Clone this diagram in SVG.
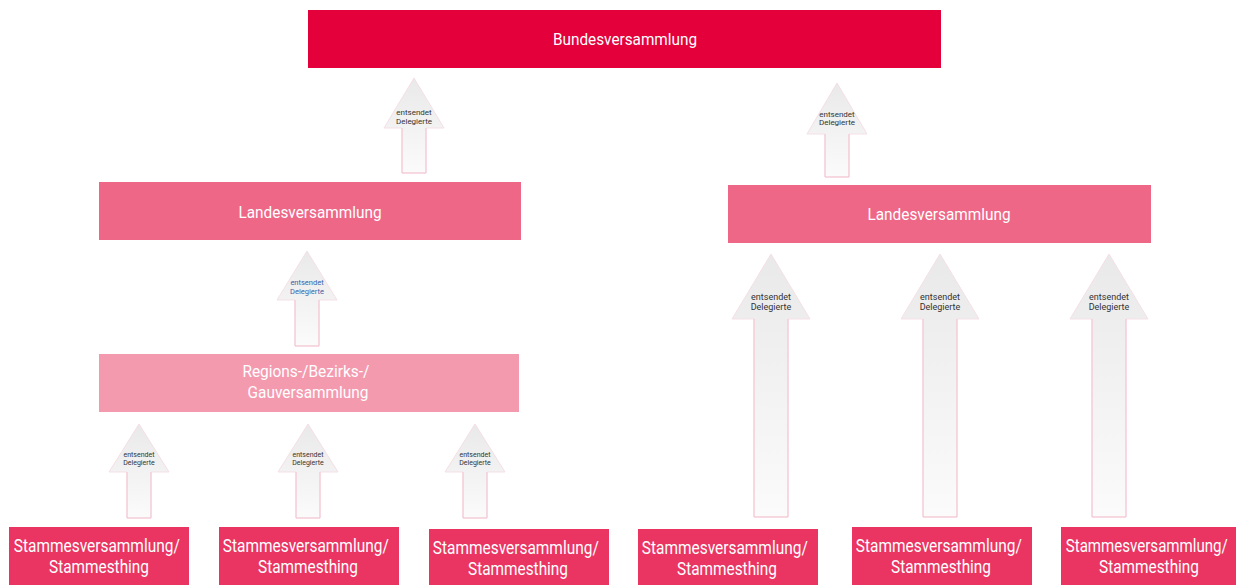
<svg xmlns="http://www.w3.org/2000/svg" width="1236" height="585" viewBox="0 0 1236 585">
  <defs>
    <linearGradient id="arrowFill" x1="0" y1="0" x2="0" y2="1">
      <stop offset="0" stop-color="#e9e9e9"/>
      <stop offset="1" stop-color="#fbfbfb"/>
    </linearGradient>
    <style>
      .box-text { font-family: Roboto, "Liberation Sans", sans-serif; fill: #ffffff; text-anchor: middle; }
      .bund { fill: #e4003a; }
      .land { fill: #ee6787; }
      .region { fill: #f49aaf; }
      .stamm { fill: #ea3563; }
      .arrow { fill: url(#arrowFill); stroke: #f5dfe5; stroke-width: 1; }
      .shaft { fill: none; stroke: #f5c2d0; stroke-width: 1; }
      .arrow-text { font-family: Roboto, "Liberation Sans", sans-serif; fill: #333333; text-anchor: middle; }
      .arrow-text.blue { fill: #3a62a8; }
    </style>
  </defs>

  <!-- connectors: "entsendet Delegierte" arrows (body + shaft outline + label) -->
  <g id="connectors">
    <path class="arrow" d="M414,78 L444,128 L426,128 L426,173 L402,173 L402,128 L384,128 Z"/>
    <path class="shaft" d="M426,128 V173 H402 V128"/>
    <text class="arrow-text" font-size="8"><tspan x="414" y="115">entsendet</tspan><tspan x="414" y="124">Delegierte</tspan></text>

    <path class="arrow" d="M837,83 L867,134 L849,134 L849,177 L825,177 L825,134 L807,134 Z"/>
    <path class="shaft" d="M849,134 V177 H825 V134"/>
    <text class="arrow-text" font-size="8"><tspan x="837" y="117">entsendet</tspan><tspan x="837" y="125">Delegierte</tspan></text>

    <path class="arrow" d="M307,251 L337,300 L319,300 L319,346 L295,346 L295,300 L277,300 Z"/>
    <path class="shaft" d="M319,300 V346 H295 V300"/>
    <text class="arrow-text blue" font-size="7.5"><tspan x="307" y="285">entsendet</tspan><tspan x="307" y="294">Delegierte</tspan></text>

    <path class="arrow" d="M139,424 L169,472 L151,472 L151,518 L127,518 L127,472 L109,472 Z"/>
    <path class="shaft" d="M151,472 V518 H127 V472"/>
    <text class="arrow-text" font-size="7"><tspan x="139" y="457">entsendet</tspan><tspan x="139" y="465">Delegierte</tspan></text>

    <path class="arrow" d="M308,424 L338,472 L320,472 L320,518 L296,518 L296,472 L278,472 Z"/>
    <path class="shaft" d="M320,472 V518 H296 V472"/>
    <text class="arrow-text" font-size="7"><tspan x="308" y="457">entsendet</tspan><tspan x="308" y="465">Delegierte</tspan></text>

    <path class="arrow" d="M475,424 L505,472 L487,472 L487,518 L463,518 L463,472 L445,472 Z"/>
    <path class="shaft" d="M487,472 V518 H463 V472"/>
    <text class="arrow-text" font-size="7"><tspan x="475" y="457">entsendet</tspan><tspan x="475" y="465">Delegierte</tspan></text>

    <path class="arrow" d="M771,254 L810,319 L788,319 L788,517 L754,517 L754,319 L732,319 Z"/>
    <path class="shaft" d="M788,319 V517 H754 V319"/>
    <text class="arrow-text" font-size="9"><tspan x="771" y="300">entsendet</tspan><tspan x="771" y="310">Delegierte</tspan></text>

    <path class="arrow" d="M940,254 L979,319 L957,319 L957,517 L923,517 L923,319 L901,319 Z"/>
    <path class="shaft" d="M957,319 V517 H923 V319"/>
    <text class="arrow-text" font-size="9"><tspan x="940" y="300">entsendet</tspan><tspan x="940" y="310">Delegierte</tspan></text>

    <path class="arrow" d="M1109,254 L1148,319 L1126,319 L1126,517 L1092,517 L1092,319 L1070,319 Z"/>
    <path class="shaft" d="M1126,319 V517 H1092 V319"/>
    <text class="arrow-text" font-size="9"><tspan x="1109" y="300">entsendet</tspan><tspan x="1109" y="310">Delegierte</tspan></text>
  </g>

  <!-- assemblies -->
  <g id="bundesversammlung">
    <rect class="bund" x="308" y="10" width="633" height="58"/>
    <text class="box-text" x="625" y="45" font-size="16" textLength="144" lengthAdjust="spacingAndGlyphs">Bundesversammlung</text>
  </g>

  <g id="landesversammlung-left">
    <rect class="land" x="99" y="182" width="422" height="58"/>
    <text class="box-text" x="310" y="218" font-size="16" textLength="143" lengthAdjust="spacingAndGlyphs">Landesversammlung</text>
  </g>

  <g id="landesversammlung-right">
    <rect class="land" x="728" y="185" width="423" height="58"/>
    <text class="box-text" x="939" y="220" font-size="16" textLength="143" lengthAdjust="spacingAndGlyphs">Landesversammlung</text>
  </g>

  <g id="regionsversammlung">
    <rect class="region" x="99" y="354" width="420" height="58"/>
    <text class="box-text" font-size="17">
      <tspan x="308" y="377" textLength="127" lengthAdjust="spacingAndGlyphs">Regions-/Bezirks-/</tspan>
      <tspan x="308" y="398" textLength="121" lengthAdjust="spacingAndGlyphs">Gauversammlung</tspan>
    </text>
  </g>

  <g id="stamm-1">
    <rect class="stamm" x="9" y="527" width="180" height="58"/>
    <text class="box-text" font-size="18">
      <tspan x="99" y="552" textLength="166" lengthAdjust="spacingAndGlyphs">Stammesversammlung/</tspan>
      <tspan x="99" y="573" textLength="100" lengthAdjust="spacingAndGlyphs">Stammesthing</tspan>
    </text>
  </g>

  <g id="stamm-2">
    <rect class="stamm" x="219" y="527" width="180" height="58"/>
    <text class="box-text" font-size="18">
      <tspan x="308" y="552" textLength="166" lengthAdjust="spacingAndGlyphs">Stammesversammlung/</tspan>
      <tspan x="308" y="573" textLength="100" lengthAdjust="spacingAndGlyphs">Stammesthing</tspan>
    </text>
  </g>

  <g id="stamm-3">
    <rect class="stamm" x="429" y="529" width="180" height="56"/>
    <text class="box-text" font-size="18">
      <tspan x="518" y="554" textLength="166" lengthAdjust="spacingAndGlyphs">Stammesversammlung/</tspan>
      <tspan x="518" y="575" textLength="100" lengthAdjust="spacingAndGlyphs">Stammesthing</tspan>
    </text>
  </g>

  <g id="stamm-4">
    <rect class="stamm" x="638" y="529" width="180" height="56"/>
    <text class="box-text" font-size="18">
      <tspan x="727" y="554" textLength="166" lengthAdjust="spacingAndGlyphs">Stammesversammlung/</tspan>
      <tspan x="727" y="575" textLength="100" lengthAdjust="spacingAndGlyphs">Stammesthing</tspan>
    </text>
  </g>

  <g id="stamm-5">
    <rect class="stamm" x="852" y="527" width="180" height="58"/>
    <text class="box-text" font-size="18">
      <tspan x="941" y="552" textLength="166" lengthAdjust="spacingAndGlyphs">Stammesversammlung/</tspan>
      <tspan x="941" y="573" textLength="100" lengthAdjust="spacingAndGlyphs">Stammesthing</tspan>
    </text>
  </g>

  <g id="stamm-6">
    <rect class="stamm" x="1061" y="527" width="175" height="58"/>
    <text class="box-text" font-size="18">
      <tspan x="1149" y="552" textLength="162" lengthAdjust="spacingAndGlyphs">Stammesversammlung/</tspan>
      <tspan x="1149" y="573" textLength="100" lengthAdjust="spacingAndGlyphs">Stammesthing</tspan>
    </text>
  </g>
</svg>
